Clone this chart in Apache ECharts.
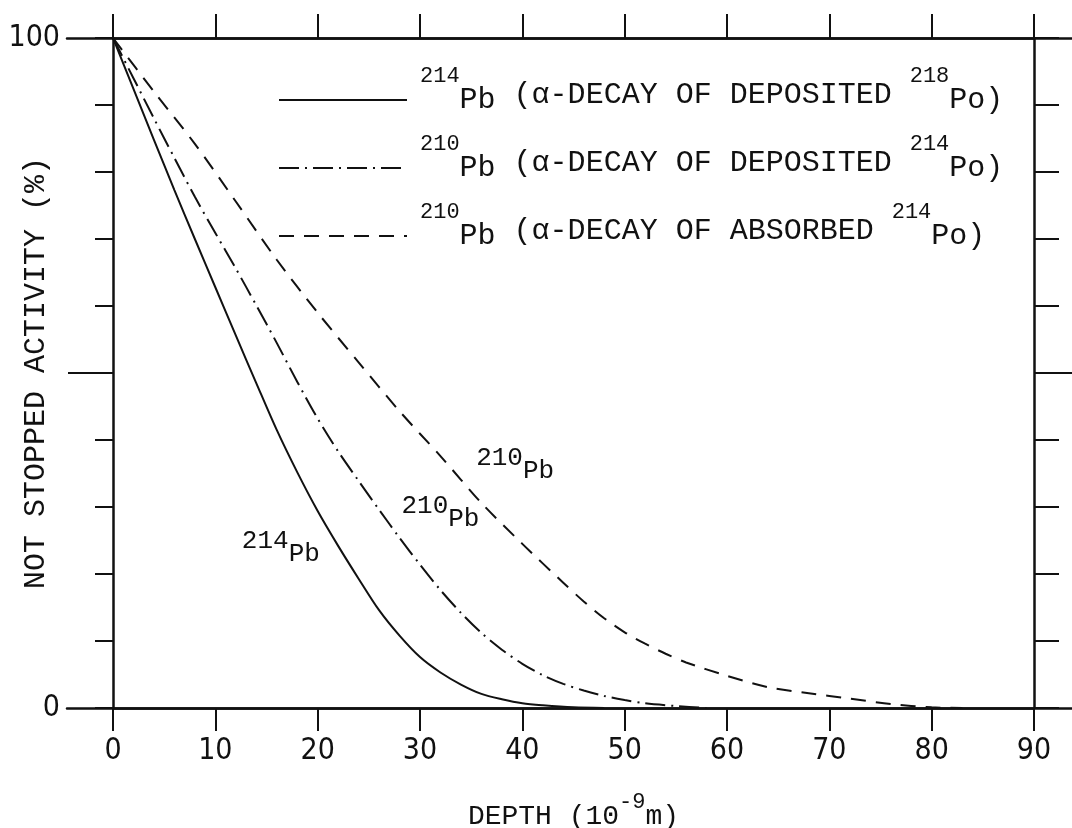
<!DOCTYPE html>
<html>
<head>
<meta charset="utf-8">
<style>
html, body { margin: 0; padding: 0; background: #fff; }
#chart { width: 1072px; height: 828px; }
</style>
<script src="https://cdn.jsdelivr.net/npm/echarts@6/dist/echarts.min.js"></script>
</head>
<body>
<div id="chart"></div>
<script>
// 214Pb (alpha-decay of deposited 218Po) - solid
var depth214 = [0, 2, 4, 6, 8, 10, 12, 14, 16, 18, 20, 22, 24, 26, 28, 30, 32, 34, 36, 38, 40, 42, 45, 48];
var act214 = [100, 92.4, 84.8, 77.3, 70, 62.8, 55.6, 48.5, 41.5, 35.2, 29.4, 24.2, 19.3, 14.6, 10.8, 7.6, 5.3, 3.5, 2.1, 1.3, 0.7, 0.4, 0.1, 0];
// 210Pb (alpha-decay of deposited 214Po) - dash-dot
var depth210dep = [0, 2, 4, 6, 8, 10, 12, 14, 16, 18, 20, 22, 24, 26, 28, 30, 32, 34, 36, 38, 40, 42, 44, 46, 48, 50, 52, 55, 58];
var act210dep = [100, 94, 88, 82.1, 76.3, 70.9, 65.6, 60.1, 54.5, 48.7, 43.2, 38.3, 33.9, 29.6, 25.4, 21.4, 17.6, 14.2, 11.2, 8.7, 6.6, 4.9, 3.6, 2.6, 1.8, 1.2, 0.7, 0.3, 0];
// 210Pb (alpha-decay of absorbed 214Po) - dashed
var depth210abs = [0, 4, 8, 12, 16, 20, 24, 28, 32, 36, 40, 44, 46, 48, 50, 52, 54, 56, 60, 64, 68, 72, 76, 80, 83];
var act210abs = [100, 92, 84.2, 75.6, 66.9, 59, 51.6, 44.3, 37.6, 30.6, 24.5, 18.7, 15.9, 13.4, 11.3, 9.6, 8.1, 6.8, 4.8, 3.1, 2.2, 1.4, 0.6, 0.1, 0];

// legend texts
var massNumbers = ['214', '210', '210'];
var parentText = ['(α-DECAY OF DEPOSITED ', '(α-DECAY OF DEPOSITED ', '(α-DECAY OF ABSORBED '];
var parentMass = ['218', '214', '214'];
// curve labels inside the plot (depth, activity)
var annotX = [16.4, 32, 39.3];
var annotY = [24, 29.1, 36.4];

var ink = '#111';
var mono = "'Liberation Mono', 'DejaVu Sans Mono', monospace";
var sans = "'Liberation Sans Narrow', 'DejaVu Sans Condensed', 'Liberation Sans', sans-serif";
var dashes = ['solid', [20, 6, 2, 6], [15, 10]];

var pairs = function(xs, ys) {
    var out = [];
    for (var i = 0; i < xs.length; i++) {
        out.push([xs[i], ys[i]]);
    }
    return out;
};
var seriesName = function(i) {
    return massNumbers[i] + 'Pb ' + parentText[i] + parentMass[i] + 'Po)';
};
var names = [seriesName(0), seriesName(1), seriesName(2)];

var chart = echarts.init(document.getElementById('chart'));
var curves = [pairs(depth214, act214), pairs(depth210dep, act210dep), pairs(depth210abs, act210abs)];
var series = [];
for (var i = 0; i < curves.length; i++) {
    series.push({
        name: names[i],
        type: 'line',
        xAxisIndex: 0,
        yAxisIndex: 0,
        data: curves[i],
        symbol: 'none',
        smooth: 0.3,
        lineStyle: { color: ink, width: 2, type: dashes[i] },
        itemStyle: { color: ink },
        markPoint: {
            symbol: 'circle',
            symbolSize: 0,
            silent: true,
            label: {
                show: true,
                position: 'inside',
                formatter: '{a|' + massNumbers[i] + '}{b|Pb}',
                rich: {
                    a: { fontFamily: mono, fontSize: 26, lineHeight: 26, color: ink, padding: [0, 0, 13, 0] },
                    b: { fontFamily: mono, fontSize: 26, lineHeight: 26, color: ink, padding: [13, 0, 0, 0] }
                }
            },
            data: [{ coord: [annotX[i], annotY[i]] }]
        }
    });
}

var plainAxis = function(extra) {
    var a = {
        type: 'value',
        axisLine: { show: true, onZero: false, lineStyle: { color: ink, width: 2.5 } },
        axisTick: { show: false },
        axisLabel: { show: false },
        splitLine: { show: false }
    };
    for (var k in extra) {
        if (extra.hasOwnProperty(k)) {
            a[k] = extra[k];
        }
    }
    return a;
};

var option = {
    animation: false,
    backgroundColor: '#fff',
    grid: [
        { left: 113, right: 38, top: 38, bottom: 120, containLabel: false, outerBoundsMode: 'none' },
        // wider frame: top and bottom lines run past the plot box
        { left: 67, right: 0, top: 38, bottom: 120, containLabel: false, outerBoundsMode: 'none' }
    ],
    legend: {
        data: names,
        orient: 'vertical',
        left: 273,
        top: 60,
        itemWidth: 128,
        itemHeight: 14,
        itemGap: -2,
        selectedMode: false,
        itemStyle: { opacity: 0 },
        formatter: function(name) {
            var i = names.indexOf(name);
            return '{s0|' + massNumbers[i] + '}{pb|Pb}{t| ' + parentText[i] + '}{s|' + parentMass[i] + '}{pb|Po)}';
        },
        textStyle: {
            fontFamily: mono,
            color: ink,
            rich: {
                t: { fontFamily: mono, fontSize: 30, lineHeight: 30, color: ink, padding: [0, 0, 10, 0] },
                pb: { fontFamily: mono, fontSize: 30, lineHeight: 30, color: ink },
                s: { fontFamily: mono, fontSize: 22, lineHeight: 22, color: ink, padding: [0, 0, 48, 0] },
                s0: { fontFamily: mono, fontSize: 22, lineHeight: 22, color: ink, padding: [0, 0, 48, 8] }
            }
        }
    },
    xAxis: [plainAxis({
        gridIndex: 0,
        position: 'bottom',
        min: 0,
        max: 90,
        interval: 10,
        name: '{t|DEPTH (10}{s|-9}{t|m)}',
        nameLocation: 'middle',
        nameGap: 88,
        nameMoveOverlap: false,
        nameTextStyle: {
            fontFamily: mono,
            color: ink,
            rich: {
                t: { fontFamily: mono, fontSize: 28, lineHeight: 28, color: ink, padding: [14, 0, 0, 0] },
                s: { fontFamily: mono, fontSize: 22, lineHeight: 22, color: ink, padding: [0, 0, 16, 0] }
            }
        },
        axisTick: { show: true, length: 23, lineStyle: { color: ink, width: 2 } },
        axisLabel: { show: true, margin: 28, fontFamily: sans, fontSize: 30, color: ink }
    }), plainAxis({
        gridIndex: 0,
        position: 'top',
        min: 0,
        max: 90,
        interval: 10,
        axisTick: { show: true, length: 24, lineStyle: { color: ink, width: 2 } }
    }), plainAxis({
        gridIndex: 1,
        position: 'bottom',
        min: 0,
        max: 1
    }), plainAxis({
        gridIndex: 1,
        position: 'top',
        min: 0,
        max: 1
    })],
    yAxis: [plainAxis({
        gridIndex: 0,
        position: 'left',
        min: 0,
        max: 100,
        interval: 10,
        name: 'NOT STOPPED ACTIVITY (%)',
        nameLocation: 'middle',
        nameGap: 62,
        nameRotate: 90,
        nameMoveOverlap: false,
        nameTextStyle: { fontFamily: mono, fontSize: 30, color: ink },
        axisTick: { show: true, length: 18, lineStyle: { color: ink, width: 2 } },
        axisLabel: {
            show: true,
            margin: 53,
            fontFamily: sans,
            fontSize: 30,
            color: ink,
            formatter: function(v) {
                return (v === 0 || v === 100) ? String(v) : '';
            }
        }
    }), plainAxis({
        gridIndex: 0,
        position: 'right',
        min: 0,
        max: 100,
        interval: 10,
        axisTick: { show: true, length: 25, lineStyle: { color: ink, width: 2 } }
    }), plainAxis({
        // longer mid tick, left
        gridIndex: 0,
        position: 'left',
        offset: 0,
        min: 0,
        max: 100,
        axisLine: { show: false, onZero: false },
        axisTick: { show: true, inside: false, length: 45, customValues: [50], lineStyle: { color: ink, width: 2 } }
    }), plainAxis({
        // longer mid tick, right
        gridIndex: 0,
        position: 'right',
        offset: 0,
        min: 0,
        max: 100,
        axisLine: { show: false, onZero: false },
        axisTick: { show: true, inside: false, length: 38, customValues: [50], lineStyle: { color: ink, width: 2 } }
    }), {
        gridIndex: 1,
        type: 'value',
        show: false,
        min: 0,
        max: 1
    }],
    series: series
};
chart.setOption(option);
</script>
</body>
</html>
